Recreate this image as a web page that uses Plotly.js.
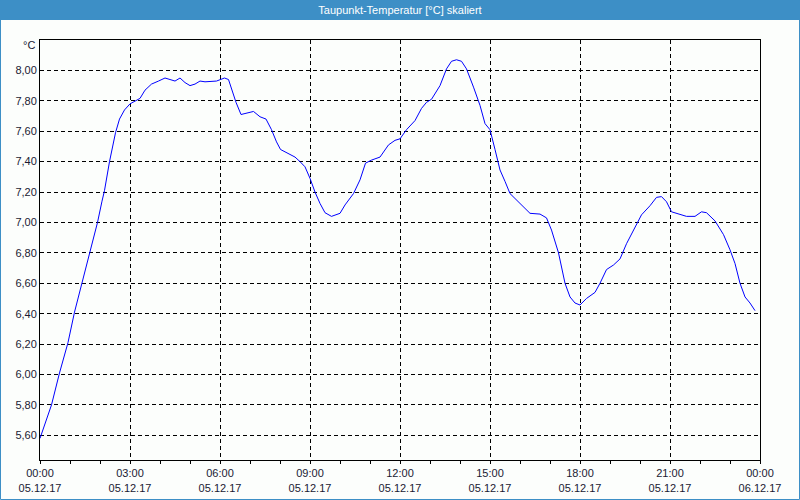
<!DOCTYPE html>
<html>
<head>
<meta charset="utf-8">
<script src="https://cdn.plot.ly/plotly-3.0.1.min.js"></script>
<style>html,body{margin:0;padding:0;background:#fcfefc;}#chart{width:800px;height:500px;}</style>
</head>
<body>
<div id="chart"></div>
<script>
const chartTitle = "Taupunkt-Temperatur [°C] skaliert";
const unitLabel = "°C";
const times = [
"2017-12-05 00:00","2017-12-05 00:23","2017-12-05 00:39","2017-12-05 00:56","2017-12-05 01:09",
"2017-12-05 01:24","2017-12-05 01:39","2017-12-05 01:55","2017-12-05 02:04","2017-12-05 02:09",
"2017-12-05 02:19","2017-12-05 02:31","2017-12-05 02:39","2017-12-05 02:49","2017-12-05 03:00",
"2017-12-05 03:20","2017-12-05 03:30","2017-12-05 03:43","2017-12-05 03:57","2017-12-05 04:10",
"2017-12-05 04:20","2017-12-05 04:30","2017-12-05 04:40","2017-12-05 04:50","2017-12-05 05:00",
"2017-12-05 05:10","2017-12-05 05:20","2017-12-05 05:30","2017-12-05 05:53","2017-12-05 06:00",
"2017-12-05 06:09","2017-12-05 06:17","2017-12-05 06:23","2017-12-05 06:32","2017-12-05 06:42",
"2017-12-05 06:53","2017-12-05 07:07","2017-12-05 07:20","2017-12-05 07:32","2017-12-05 07:43",
"2017-12-05 07:53","2017-12-05 08:01","2017-12-05 08:17","2017-12-05 08:30","2017-12-05 08:40",
"2017-12-05 08:50","2017-12-05 09:00","2017-12-05 09:10","2017-12-05 09:20","2017-12-05 09:30",
"2017-12-05 09:43","2017-12-05 10:00","2017-12-05 10:10","2017-12-05 10:27","2017-12-05 10:40",
"2017-12-05 10:51","2017-12-05 11:03","2017-12-05 11:20","2017-12-05 11:37","2017-12-05 11:50",
"2017-12-05 12:00","2017-12-05 12:13","2017-12-05 12:30","2017-12-05 12:43","2017-12-05 12:53",
"2017-12-05 13:03","2017-12-05 13:20","2017-12-05 13:33","2017-12-05 13:43","2017-12-05 13:53",
"2017-12-05 14:03","2017-12-05 14:13","2017-12-05 14:27","2017-12-05 14:40","2017-12-05 14:50",
"2017-12-05 15:00","2017-12-05 15:10","2017-12-05 15:20","2017-12-05 15:30","2017-12-05 15:40",
"2017-12-05 16:00","2017-12-05 16:20","2017-12-05 16:40","2017-12-05 16:53","2017-12-05 17:03",
"2017-12-05 17:17","2017-12-05 17:30","2017-12-05 17:40","2017-12-05 17:50","2017-12-05 18:00",
"2017-12-05 18:13","2017-12-05 18:30","2017-12-05 18:40","2017-12-05 18:53","2017-12-05 19:07",
"2017-12-05 19:20","2017-12-05 19:33","2017-12-05 19:50","2017-12-05 20:03","2017-12-05 20:20",
"2017-12-05 20:33","2017-12-05 20:43","2017-12-05 20:53","2017-12-05 21:03","2017-12-05 21:20",
"2017-12-05 21:33","2017-12-05 21:50","2017-12-05 22:03","2017-12-05 22:13","2017-12-05 22:30",
"2017-12-05 22:47","2017-12-05 23:00","2017-12-05 23:10","2017-12-05 23:20","2017-12-05 23:30",
"2017-12-05 23:40","2017-12-05 23:50"
];
const dewpoint = [
5.58,5.80,6.01,6.21,6.41,
6.60,6.80,7.00,7.14,7.21,
7.40,7.59,7.68,7.74,7.78,
7.816,7.87,7.91,7.93,7.95,
7.94,7.93,7.95,7.92,7.90,
7.91,7.93,7.925,7.93,7.94,
7.95,7.94,7.88,7.79,7.71,
7.72,7.73,7.695,7.68,7.61,
7.53,7.48,7.455,7.43,7.40,
7.366,7.29,7.20,7.125,7.064,
7.04,7.06,7.115,7.19,7.28,
7.39,7.41,7.43,7.51,7.54,
7.55,7.61,7.67,7.75,7.79,
7.81,7.90,8.01,8.06,8.07,
8.06,8.01,7.89,7.77,7.65,
7.61,7.48,7.345,7.27,7.19,
7.125,7.06,7.055,7.03,6.95,
6.80,6.60,6.51,6.47,6.457,
6.50,6.54,6.60,6.69,6.72,
6.76,6.86,6.97,7.05,7.11,
7.165,7.17,7.136,7.07,7.053,
7.04,7.04,7.07,7.064,7.01,
6.92,6.82,6.73,6.60,6.51,
6.47,6.42
];
const yTickVals = [5.6,5.8,6.0,6.2,6.4,6.6,6.8,7.0,7.2,7.4,7.6,7.8,8.0];
const xRange = ["2017-12-05 00:00","2017-12-06 00:00"];
const yRange = [5.4375, 8.2];

const fontFam = "Liberation Sans, Arial, sans-serif";
const txtColor = "#1a1a33";
const barBlue = "#3d8fc6";
const W = 720, H = 420, ML = 40, MT = 40;

const trace = {
  x: times, y: dewpoint, type: "scatter", mode: "lines",
  line: {color: "#0000ff", width: 1}, hoverinfo: "x+y"
};

const layout = {
  width: 800, height: 500,
  margin: {l: 40, r: 40, t: 40, b: 40, pad: 0},
  paper_bgcolor: "#fcfefc", plot_bgcolor: "#fcfefc",
  separators: ",.",
  showlegend: false,
  font: {family: fontFam, size: 11, color: txtColor},
  title: {text: chartTitle, font: {family: fontFam, size: 11, color: "#ffffff"},
          xref: "container", x: 0.5, xanchor: "center", yref: "container", y: 1 - 10/500, yanchor: "middle"},
  xaxis: {
    type: "date", range: xRange, tick0: "2017-12-05 00:00", dtick: 3*3600000,
    tickformat: "%H:%M<br>%d.%m.%y",
    showgrid: true, gridcolor: "#000000", griddash: "4px,3px", gridwidth: 1,
    showline: true, mirror: true, linecolor: "#000000", linewidth: 1,
    ticks: "outside", ticklen: 3, tickcolor: "#000000",
    minor: {dtick: 3600000, ticks: "outside", ticklen: 3, tickcolor: "#000000", showgrid: false},
    tickfont: {family: fontFam, size: 11, color: txtColor}, zeroline: false, fixedrange: true
  },
  yaxis: {
    range: yRange, tickmode: "array", tickvals: yTickVals, tickformat: ".2f",
    showgrid: true, gridcolor: "#000000", griddash: "4px,3px", gridwidth: 1,
    showline: true, mirror: true, linecolor: "#000000", linewidth: 1,
    ticks: "", tickfont: {family: fontFam, size: 11, color: txtColor}, zeroline: false, fixedrange: true
  },
  shapes: [
    {type: "rect", xref: "paper", yref: "paper", layer: "below",
     x0: -ML/W, x1: (800-ML)/W, y0: (H - 20 + 0)/H + 0, y1: (H+MT)/H,
     fillcolor: barBlue, line: {width: 0}},
    {type: "rect", xref: "paper", yref: "paper", layer: "above",
     x0: (-ML+0.5)/W, x1: (800-ML-0.5)/W, y0: (H - (500-MT-0.5) + 0)/H - 0, y1: (H+MT-0.5)/H,
     fillcolor: "rgba(0,0,0,0)", line: {color: barBlue, width: 1}}
  ],
  annotations: [
    {text: unitLabel, xref: "paper", yref: "paper", x: 0, y: 1, xanchor: "right", yanchor: "middle",
     xshift: -3, yshift: -5, showarrow: false, font: {family: fontFam, size: 11, color: txtColor}}
  ]
};
// title bar: from image top (y=0) to y=20 px
layout.shapes[0].y0 = (H + MT - 20) / H;
layout.shapes[0].y1 = (H + MT) / H;
// outer frame
layout.shapes[1].y0 = -(500 - MT - H - 0.5) / H;

Plotly.newPlot("chart", [trace], layout, {displayModeBar: false, staticPlot: true});
</script>
</body>
</html>
